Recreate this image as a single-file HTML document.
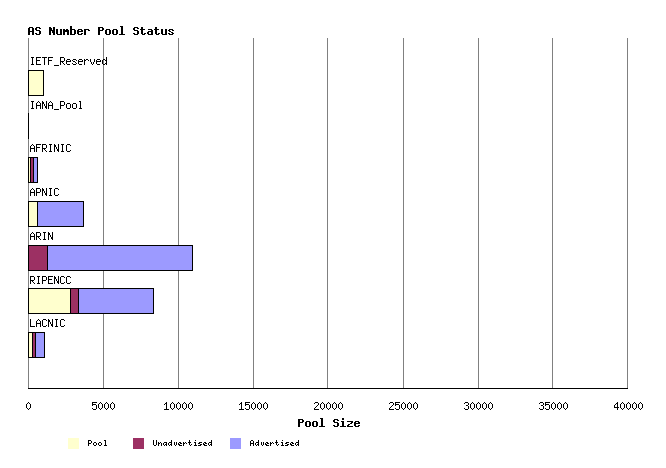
<!DOCTYPE html>
<html lang="en">
<head>
<meta charset="utf-8">
<title>AS Number Pool Status</title>
<style>
html,body{margin:0;padding:0;background:#fff;}
body{font-family:"Liberation Mono",monospace;font-size:11px;color:#000;}
#chart{position:relative;width:666px;height:468px;background:#fff;overflow:hidden;}
#chart div{position:absolute;}
.g{width:1px;top:38px;height:351px;background:#808080;}
.ax{left:28px;top:388px;width:600px;height:1px;background:#000;}
.bar{background:#000;height:26px;left:28px;}
.bar i{position:absolute;display:block;top:1px;height:24px;}
.sw{width:11px;height:11px;top:438px;}
.t svg{display:block;position:absolute;left:0;top:0;}
.t path{fill:#000;}
.sr{position:absolute;left:0;top:0;width:1px;height:1px;overflow:hidden;clip:rect(0 0 0 0);clip-path:inset(50%);white-space:nowrap;font-size:1px;color:transparent;}
</style>
</head>
<body>
<div id="chart">
<div class="t title" style="left:28px;top:24px;width:147px;height:13px"><span class="sr">AS Number Pool Status</span><svg width="147" height="13" viewBox="0 0 147 13" shape-rendering="crispEdges" role="img" aria-label="AS Number Pool Status"><title>AS Number Pool Status</title><path d="M1 3h4v1h-4zM0 4h2v1h-2zM4 4h2v1h-2zM0 5h2v1h-2zM4 5h2v1h-2zM0 6h2v1h-2zM4 6h2v1h-2zM0 7h6v1h-6zM0 8h2v1h-2zM4 8h2v1h-2zM0 9h2v1h-2zM4 9h2v1h-2zM0 10h2v1h-2zM4 10h2v1h-2zM8 3h4v1h-4zM7 4h2v1h-2zM11 4h2v1h-2zM7 5h2v1h-2zM8 6h4v1h-4zM11 7h2v1h-2zM11 8h2v1h-2zM7 9h2v1h-2zM11 9h2v1h-2zM8 10h4v1h-4zM21 3h2v1h-2zM25 3h2v1h-2zM21 4h3v1h-3zM25 4h2v1h-2zM21 5h3v1h-3zM25 5h2v1h-2zM21 6h6v1h-6zM21 7h2v1h-2zM24 7h3v1h-3zM21 8h2v1h-2zM24 8h3v1h-3zM21 9h2v1h-2zM25 9h2v1h-2zM21 10h2v1h-2zM25 10h2v1h-2zM28 5h2v1h-2zM32 5h2v1h-2zM28 6h2v1h-2zM32 6h2v1h-2zM28 7h2v1h-2zM32 7h2v1h-2zM28 8h2v1h-2zM32 8h2v1h-2zM28 9h2v1h-2zM32 9h2v1h-2zM29 10h5v1h-5zM35 5h2v1h-2zM38 5h2v1h-2zM35 6h6v1h-6zM35 7h6v1h-6zM35 8h2v1h-2zM39 8h2v1h-2zM35 9h2v1h-2zM39 9h2v1h-2zM35 10h2v1h-2zM39 10h2v1h-2zM42 2h2v1h-2zM42 3h2v1h-2zM42 4h2v1h-2zM42 5h5v1h-5zM42 6h2v1h-2zM46 6h2v1h-2zM42 7h2v1h-2zM46 7h2v1h-2zM42 8h2v1h-2zM46 8h2v1h-2zM42 9h2v1h-2zM46 9h2v1h-2zM42 10h5v1h-5zM50 5h4v1h-4zM49 6h2v1h-2zM53 6h2v1h-2zM49 7h6v1h-6zM49 8h2v1h-2zM49 9h2v1h-2zM53 9h2v1h-2zM50 10h4v1h-4zM56 5h5v1h-5zM56 6h2v1h-2zM60 6h2v1h-2zM56 7h2v1h-2zM56 8h2v1h-2zM56 9h2v1h-2zM56 10h2v1h-2zM70 3h5v1h-5zM70 4h2v1h-2zM74 4h2v1h-2zM70 5h2v1h-2zM74 5h2v1h-2zM70 6h5v1h-5zM70 7h2v1h-2zM70 8h2v1h-2zM70 9h2v1h-2zM70 10h2v1h-2zM78 5h4v1h-4zM77 6h2v1h-2zM81 6h2v1h-2zM77 7h2v1h-2zM81 7h2v1h-2zM77 8h2v1h-2zM81 8h2v1h-2zM77 9h2v1h-2zM81 9h2v1h-2zM78 10h4v1h-4zM85 5h4v1h-4zM84 6h2v1h-2zM88 6h2v1h-2zM84 7h2v1h-2zM88 7h2v1h-2zM84 8h2v1h-2zM88 8h2v1h-2zM84 9h2v1h-2zM88 9h2v1h-2zM85 10h4v1h-4zM92 2h3v1h-3zM93 3h2v1h-2zM93 4h2v1h-2zM93 5h2v1h-2zM93 6h2v1h-2zM93 7h2v1h-2zM93 8h2v1h-2zM93 9h2v1h-2zM91 10h6v1h-6zM106 3h4v1h-4zM105 4h2v1h-2zM109 4h2v1h-2zM105 5h2v1h-2zM106 6h4v1h-4zM109 7h2v1h-2zM109 8h2v1h-2zM105 9h2v1h-2zM109 9h2v1h-2zM106 10h4v1h-4zM113 3h2v1h-2zM113 4h2v1h-2zM112 5h5v1h-5zM113 6h2v1h-2zM113 7h2v1h-2zM113 8h2v1h-2zM113 9h2v1h-2zM116 9h2v1h-2zM114 10h3v1h-3zM120 5h4v1h-4zM123 6h2v1h-2zM120 7h5v1h-5zM119 8h2v1h-2zM123 8h2v1h-2zM119 9h2v1h-2zM123 9h2v1h-2zM120 10h5v1h-5zM127 3h2v1h-2zM127 4h2v1h-2zM126 5h5v1h-5zM127 6h2v1h-2zM127 7h2v1h-2zM127 8h2v1h-2zM127 9h2v1h-2zM130 9h2v1h-2zM128 10h3v1h-3zM133 5h2v1h-2zM137 5h2v1h-2zM133 6h2v1h-2zM137 6h2v1h-2zM133 7h2v1h-2zM137 7h2v1h-2zM133 8h2v1h-2zM137 8h2v1h-2zM133 9h2v1h-2zM137 9h2v1h-2zM134 10h5v1h-5zM141 5h4v1h-4zM140 6h2v1h-2zM144 6h2v1h-2zM141 7h2v1h-2zM143 8h2v1h-2zM140 9h2v1h-2zM144 9h2v1h-2zM141 10h4v1h-4z"/></svg></div>
<!-- grid lines -->
<div class="g" style="left:28px"></div><div class="g" style="left:103px"></div><div class="g" style="left:178px"></div><div class="g" style="left:253px"></div><div class="g" style="left:327px"></div><div class="g" style="left:403px"></div><div class="g" style="left:478px"></div><div class="g" style="left:552px"></div><div class="g" style="left:627px"></div>
<div class="ax"></div>
<!-- bars -->
<div class="t cat" style="left:30px;top:54px;width:78px;height:13px"><span class="sr">IETF_Reserved</span><svg width="78" height="13" viewBox="0 0 78 13" shape-rendering="crispEdges" role="img" aria-label="IETF_Reserved"><title>IETF_Reserved</title><path d="M1 3h3v1h-3zM2 4h1v1h-1zM2 5h1v1h-1zM2 6h1v1h-1zM2 7h1v1h-1zM2 8h1v1h-1zM2 9h1v1h-1zM1 10h3v1h-3zM6 3h5v1h-5zM6 4h1v1h-1zM6 5h1v1h-1zM6 6h4v1h-4zM6 7h1v1h-1zM6 8h1v1h-1zM6 9h1v1h-1zM6 10h5v1h-5zM12 3h5v1h-5zM14 4h1v1h-1zM14 5h1v1h-1zM14 6h1v1h-1zM14 7h1v1h-1zM14 8h1v1h-1zM14 9h1v1h-1zM14 10h1v1h-1zM18 3h5v1h-5zM18 4h1v1h-1zM18 5h1v1h-1zM18 6h4v1h-4zM18 7h1v1h-1zM18 8h1v1h-1zM18 9h1v1h-1zM18 10h1v1h-1zM24 11h5v1h-5zM30 3h4v1h-4zM30 4h1v1h-1zM34 4h1v1h-1zM30 5h1v1h-1zM34 5h1v1h-1zM30 6h1v1h-1zM34 6h1v1h-1zM30 7h4v1h-4zM30 8h1v1h-1zM32 8h1v1h-1zM30 9h1v1h-1zM33 9h1v1h-1zM30 10h1v1h-1zM34 10h1v1h-1zM37 5h3v1h-3zM36 6h1v1h-1zM40 6h1v1h-1zM36 7h5v1h-5zM36 8h1v1h-1zM36 9h1v1h-1zM37 10h3v1h-3zM43 5h3v1h-3zM42 6h1v1h-1zM46 6h1v1h-1zM43 7h2v1h-2zM45 8h1v1h-1zM42 9h1v1h-1zM46 9h1v1h-1zM43 10h3v1h-3zM49 5h3v1h-3zM48 6h1v1h-1zM52 6h1v1h-1zM48 7h5v1h-5zM48 8h1v1h-1zM48 9h1v1h-1zM49 10h3v1h-3zM54 5h1v1h-1zM56 5h2v1h-2zM54 6h2v1h-2zM58 6h1v1h-1zM54 7h1v1h-1zM54 8h1v1h-1zM54 9h1v1h-1zM54 10h1v1h-1zM60 5h1v1h-1zM64 5h1v1h-1zM60 6h1v1h-1zM64 6h1v1h-1zM60 7h1v1h-1zM64 7h1v1h-1zM61 8h1v1h-1zM63 8h1v1h-1zM61 9h1v1h-1zM63 9h1v1h-1zM62 10h1v1h-1zM67 5h3v1h-3zM66 6h1v1h-1zM70 6h1v1h-1zM66 7h5v1h-5zM66 8h1v1h-1zM66 9h1v1h-1zM67 10h3v1h-3zM76 3h1v1h-1zM76 4h1v1h-1zM73 5h2v1h-2zM76 5h1v1h-1zM72 6h1v1h-1zM75 6h2v1h-2zM72 7h1v1h-1zM76 7h1v1h-1zM72 8h1v1h-1zM76 8h1v1h-1zM72 9h1v1h-1zM75 9h2v1h-2zM73 10h2v1h-2zM76 10h1v1h-1z"/></svg></div>
<div class="bar" style="top:70px;width:16px"><i style="left:1px;width:14px;background:#ffffce"></i></div>
<div class="t cat" style="left:30px;top:98px;width:54px;height:13px"><span class="sr">IANA_Pool</span><svg width="54" height="13" viewBox="0 0 54 13" shape-rendering="crispEdges" role="img" aria-label="IANA_Pool"><title>IANA_Pool</title><path d="M1 3h3v1h-3zM2 4h1v1h-1zM2 5h1v1h-1zM2 6h1v1h-1zM2 7h1v1h-1zM2 8h1v1h-1zM2 9h1v1h-1zM1 10h3v1h-3zM8 3h1v1h-1zM7 4h1v1h-1zM9 4h1v1h-1zM6 5h1v1h-1zM10 5h1v1h-1zM6 6h1v1h-1zM10 6h1v1h-1zM6 7h5v1h-5zM6 8h1v1h-1zM10 8h1v1h-1zM6 9h1v1h-1zM10 9h1v1h-1zM6 10h1v1h-1zM10 10h1v1h-1zM12 3h1v1h-1zM16 3h1v1h-1zM12 4h2v1h-2zM16 4h1v1h-1zM12 5h2v1h-2zM16 5h1v1h-1zM12 6h1v1h-1zM14 6h1v1h-1zM16 6h1v1h-1zM12 7h1v1h-1zM14 7h1v1h-1zM16 7h1v1h-1zM12 8h1v1h-1zM15 8h2v1h-2zM12 9h1v1h-1zM15 9h2v1h-2zM12 10h1v1h-1zM16 10h1v1h-1zM20 3h1v1h-1zM19 4h1v1h-1zM21 4h1v1h-1zM18 5h1v1h-1zM22 5h1v1h-1zM18 6h1v1h-1zM22 6h1v1h-1zM18 7h5v1h-5zM18 8h1v1h-1zM22 8h1v1h-1zM18 9h1v1h-1zM22 9h1v1h-1zM18 10h1v1h-1zM22 10h1v1h-1zM24 11h5v1h-5zM30 3h4v1h-4zM30 4h1v1h-1zM34 4h1v1h-1zM30 5h1v1h-1zM34 5h1v1h-1zM30 6h1v1h-1zM34 6h1v1h-1zM30 7h4v1h-4zM30 8h1v1h-1zM30 9h1v1h-1zM30 10h1v1h-1zM37 5h3v1h-3zM36 6h1v1h-1zM40 6h1v1h-1zM36 7h1v1h-1zM40 7h1v1h-1zM36 8h1v1h-1zM40 8h1v1h-1zM36 9h1v1h-1zM40 9h1v1h-1zM37 10h3v1h-3zM43 5h3v1h-3zM42 6h1v1h-1zM46 6h1v1h-1zM42 7h1v1h-1zM46 7h1v1h-1zM42 8h1v1h-1zM46 8h1v1h-1zM42 9h1v1h-1zM46 9h1v1h-1zM43 10h3v1h-3zM49 3h2v1h-2zM50 4h1v1h-1zM50 5h1v1h-1zM50 6h1v1h-1zM50 7h1v1h-1zM50 8h1v1h-1zM50 9h1v1h-1zM49 10h3v1h-3z"/></svg></div>
<div class="bar" style="top:113px;width:1px"></div>
<div class="t cat" style="left:30px;top:141px;width:42px;height:13px"><span class="sr">AFRINIC</span><svg width="42" height="13" viewBox="0 0 42 13" shape-rendering="crispEdges" role="img" aria-label="AFRINIC"><title>AFRINIC</title><path d="M2 3h1v1h-1zM1 4h1v1h-1zM3 4h1v1h-1zM0 5h1v1h-1zM4 5h1v1h-1zM0 6h1v1h-1zM4 6h1v1h-1zM0 7h5v1h-5zM0 8h1v1h-1zM4 8h1v1h-1zM0 9h1v1h-1zM4 9h1v1h-1zM0 10h1v1h-1zM4 10h1v1h-1zM6 3h5v1h-5zM6 4h1v1h-1zM6 5h1v1h-1zM6 6h4v1h-4zM6 7h1v1h-1zM6 8h1v1h-1zM6 9h1v1h-1zM6 10h1v1h-1zM12 3h4v1h-4zM12 4h1v1h-1zM16 4h1v1h-1zM12 5h1v1h-1zM16 5h1v1h-1zM12 6h1v1h-1zM16 6h1v1h-1zM12 7h4v1h-4zM12 8h1v1h-1zM14 8h1v1h-1zM12 9h1v1h-1zM15 9h1v1h-1zM12 10h1v1h-1zM16 10h1v1h-1zM19 3h3v1h-3zM20 4h1v1h-1zM20 5h1v1h-1zM20 6h1v1h-1zM20 7h1v1h-1zM20 8h1v1h-1zM20 9h1v1h-1zM19 10h3v1h-3zM24 3h1v1h-1zM28 3h1v1h-1zM24 4h2v1h-2zM28 4h1v1h-1zM24 5h2v1h-2zM28 5h1v1h-1zM24 6h1v1h-1zM26 6h1v1h-1zM28 6h1v1h-1zM24 7h1v1h-1zM26 7h1v1h-1zM28 7h1v1h-1zM24 8h1v1h-1zM27 8h2v1h-2zM24 9h1v1h-1zM27 9h2v1h-2zM24 10h1v1h-1zM28 10h1v1h-1zM31 3h3v1h-3zM32 4h1v1h-1zM32 5h1v1h-1zM32 6h1v1h-1zM32 7h1v1h-1zM32 8h1v1h-1zM32 9h1v1h-1zM31 10h3v1h-3zM37 3h3v1h-3zM36 4h1v1h-1zM40 4h1v1h-1zM36 5h1v1h-1zM36 6h1v1h-1zM36 7h1v1h-1zM36 8h1v1h-1zM36 9h1v1h-1zM40 9h1v1h-1zM37 10h3v1h-3z"/></svg></div>
<div class="bar" style="top:157px;width:10px"><i style="left:1px;width:1px;background:#ffffce"></i><i style="left:3px;width:2px;background:#9c3063"></i><i style="left:6px;width:3px;background:#9c9aff"></i></div>
<div class="t cat" style="left:30px;top:185px;width:30px;height:13px"><span class="sr">APNIC</span><svg width="30" height="13" viewBox="0 0 30 13" shape-rendering="crispEdges" role="img" aria-label="APNIC"><title>APNIC</title><path d="M2 3h1v1h-1zM1 4h1v1h-1zM3 4h1v1h-1zM0 5h1v1h-1zM4 5h1v1h-1zM0 6h1v1h-1zM4 6h1v1h-1zM0 7h5v1h-5zM0 8h1v1h-1zM4 8h1v1h-1zM0 9h1v1h-1zM4 9h1v1h-1zM0 10h1v1h-1zM4 10h1v1h-1zM6 3h4v1h-4zM6 4h1v1h-1zM10 4h1v1h-1zM6 5h1v1h-1zM10 5h1v1h-1zM6 6h1v1h-1zM10 6h1v1h-1zM6 7h4v1h-4zM6 8h1v1h-1zM6 9h1v1h-1zM6 10h1v1h-1zM12 3h1v1h-1zM16 3h1v1h-1zM12 4h2v1h-2zM16 4h1v1h-1zM12 5h2v1h-2zM16 5h1v1h-1zM12 6h1v1h-1zM14 6h1v1h-1zM16 6h1v1h-1zM12 7h1v1h-1zM14 7h1v1h-1zM16 7h1v1h-1zM12 8h1v1h-1zM15 8h2v1h-2zM12 9h1v1h-1zM15 9h2v1h-2zM12 10h1v1h-1zM16 10h1v1h-1zM19 3h3v1h-3zM20 4h1v1h-1zM20 5h1v1h-1zM20 6h1v1h-1zM20 7h1v1h-1zM20 8h1v1h-1zM20 9h1v1h-1zM19 10h3v1h-3zM25 3h3v1h-3zM24 4h1v1h-1zM28 4h1v1h-1zM24 5h1v1h-1zM24 6h1v1h-1zM24 7h1v1h-1zM24 8h1v1h-1zM24 9h1v1h-1zM28 9h1v1h-1zM25 10h3v1h-3z"/></svg></div>
<div class="bar" style="top:201px;width:56px"><i style="left:1px;width:8px;background:#ffffce"></i><i style="left:10px;width:45px;background:#9c9aff"></i></div>
<div class="t cat" style="left:30px;top:229px;width:24px;height:13px"><span class="sr">ARIN</span><svg width="24" height="13" viewBox="0 0 24 13" shape-rendering="crispEdges" role="img" aria-label="ARIN"><title>ARIN</title><path d="M2 3h1v1h-1zM1 4h1v1h-1zM3 4h1v1h-1zM0 5h1v1h-1zM4 5h1v1h-1zM0 6h1v1h-1zM4 6h1v1h-1zM0 7h5v1h-5zM0 8h1v1h-1zM4 8h1v1h-1zM0 9h1v1h-1zM4 9h1v1h-1zM0 10h1v1h-1zM4 10h1v1h-1zM6 3h4v1h-4zM6 4h1v1h-1zM10 4h1v1h-1zM6 5h1v1h-1zM10 5h1v1h-1zM6 6h1v1h-1zM10 6h1v1h-1zM6 7h4v1h-4zM6 8h1v1h-1zM8 8h1v1h-1zM6 9h1v1h-1zM9 9h1v1h-1zM6 10h1v1h-1zM10 10h1v1h-1zM13 3h3v1h-3zM14 4h1v1h-1zM14 5h1v1h-1zM14 6h1v1h-1zM14 7h1v1h-1zM14 8h1v1h-1zM14 9h1v1h-1zM13 10h3v1h-3zM18 3h1v1h-1zM22 3h1v1h-1zM18 4h2v1h-2zM22 4h1v1h-1zM18 5h2v1h-2zM22 5h1v1h-1zM18 6h1v1h-1zM20 6h1v1h-1zM22 6h1v1h-1zM18 7h1v1h-1zM20 7h1v1h-1zM22 7h1v1h-1zM18 8h1v1h-1zM21 8h2v1h-2zM18 9h1v1h-1zM21 9h2v1h-2zM18 10h1v1h-1zM22 10h1v1h-1z"/></svg></div>
<div class="bar" style="top:245px;width:165px"><i style="left:1px;width:18px;background:#9c3063"></i><i style="left:20px;width:144px;background:#9c9aff"></i></div>
<div class="t cat" style="left:30px;top:273px;width:42px;height:13px"><span class="sr">RIPENCC</span><svg width="42" height="13" viewBox="0 0 42 13" shape-rendering="crispEdges" role="img" aria-label="RIPENCC"><title>RIPENCC</title><path d="M0 3h4v1h-4zM0 4h1v1h-1zM4 4h1v1h-1zM0 5h1v1h-1zM4 5h1v1h-1zM0 6h1v1h-1zM4 6h1v1h-1zM0 7h4v1h-4zM0 8h1v1h-1zM2 8h1v1h-1zM0 9h1v1h-1zM3 9h1v1h-1zM0 10h1v1h-1zM4 10h1v1h-1zM7 3h3v1h-3zM8 4h1v1h-1zM8 5h1v1h-1zM8 6h1v1h-1zM8 7h1v1h-1zM8 8h1v1h-1zM8 9h1v1h-1zM7 10h3v1h-3zM12 3h4v1h-4zM12 4h1v1h-1zM16 4h1v1h-1zM12 5h1v1h-1zM16 5h1v1h-1zM12 6h1v1h-1zM16 6h1v1h-1zM12 7h4v1h-4zM12 8h1v1h-1zM12 9h1v1h-1zM12 10h1v1h-1zM18 3h5v1h-5zM18 4h1v1h-1zM18 5h1v1h-1zM18 6h4v1h-4zM18 7h1v1h-1zM18 8h1v1h-1zM18 9h1v1h-1zM18 10h5v1h-5zM24 3h1v1h-1zM28 3h1v1h-1zM24 4h2v1h-2zM28 4h1v1h-1zM24 5h2v1h-2zM28 5h1v1h-1zM24 6h1v1h-1zM26 6h1v1h-1zM28 6h1v1h-1zM24 7h1v1h-1zM26 7h1v1h-1zM28 7h1v1h-1zM24 8h1v1h-1zM27 8h2v1h-2zM24 9h1v1h-1zM27 9h2v1h-2zM24 10h1v1h-1zM28 10h1v1h-1zM31 3h3v1h-3zM30 4h1v1h-1zM34 4h1v1h-1zM30 5h1v1h-1zM30 6h1v1h-1zM30 7h1v1h-1zM30 8h1v1h-1zM30 9h1v1h-1zM34 9h1v1h-1zM31 10h3v1h-3zM37 3h3v1h-3zM36 4h1v1h-1zM40 4h1v1h-1zM36 5h1v1h-1zM36 6h1v1h-1zM36 7h1v1h-1zM36 8h1v1h-1zM36 9h1v1h-1zM40 9h1v1h-1zM37 10h3v1h-3z"/></svg></div>
<div class="bar" style="top:288px;width:126px"><i style="left:1px;width:41px;background:#ffffce"></i><i style="left:43px;width:7px;background:#9c3063"></i><i style="left:51px;width:74px;background:#9c9aff"></i></div>
<div class="t cat" style="left:30px;top:316px;width:36px;height:13px"><span class="sr">LACNIC</span><svg width="36" height="13" viewBox="0 0 36 13" shape-rendering="crispEdges" role="img" aria-label="LACNIC"><title>LACNIC</title><path d="M0 3h1v1h-1zM0 4h1v1h-1zM0 5h1v1h-1zM0 6h1v1h-1zM0 7h1v1h-1zM0 8h1v1h-1zM0 9h1v1h-1zM0 10h5v1h-5zM8 3h1v1h-1zM7 4h1v1h-1zM9 4h1v1h-1zM6 5h1v1h-1zM10 5h1v1h-1zM6 6h1v1h-1zM10 6h1v1h-1zM6 7h5v1h-5zM6 8h1v1h-1zM10 8h1v1h-1zM6 9h1v1h-1zM10 9h1v1h-1zM6 10h1v1h-1zM10 10h1v1h-1zM13 3h3v1h-3zM12 4h1v1h-1zM16 4h1v1h-1zM12 5h1v1h-1zM12 6h1v1h-1zM12 7h1v1h-1zM12 8h1v1h-1zM12 9h1v1h-1zM16 9h1v1h-1zM13 10h3v1h-3zM18 3h1v1h-1zM22 3h1v1h-1zM18 4h2v1h-2zM22 4h1v1h-1zM18 5h2v1h-2zM22 5h1v1h-1zM18 6h1v1h-1zM20 6h1v1h-1zM22 6h1v1h-1zM18 7h1v1h-1zM20 7h1v1h-1zM22 7h1v1h-1zM18 8h1v1h-1zM21 8h2v1h-2zM18 9h1v1h-1zM21 9h2v1h-2zM18 10h1v1h-1zM22 10h1v1h-1zM25 3h3v1h-3zM26 4h1v1h-1zM26 5h1v1h-1zM26 6h1v1h-1zM26 7h1v1h-1zM26 8h1v1h-1zM26 9h1v1h-1zM25 10h3v1h-3zM31 3h3v1h-3zM30 4h1v1h-1zM34 4h1v1h-1zM30 5h1v1h-1zM30 6h1v1h-1zM30 7h1v1h-1zM30 8h1v1h-1zM30 9h1v1h-1zM34 9h1v1h-1zM31 10h3v1h-3z"/></svg></div>
<div class="bar" style="top:332px;width:17px"><i style="left:1px;width:3px;background:#ffffce"></i><i style="left:5px;width:2px;background:#9c3063"></i><i style="left:8px;width:8px;background:#9c9aff"></i></div>
<!-- x axis tick labels -->
<div class="t tick" style="left:26px;top:399px;width:6px;height:13px"><span class="sr">0</span><svg width="6" height="13" viewBox="0 0 6 13" shape-rendering="crispEdges" role="img" aria-label="0"><title>0</title><path d="M2 3h1v1h-1zM1 4h1v1h-1zM3 4h1v1h-1zM0 5h1v1h-1zM4 5h1v1h-1zM0 6h1v1h-1zM4 6h1v1h-1zM0 7h1v1h-1zM4 7h1v1h-1zM0 8h1v1h-1zM4 8h1v1h-1zM1 9h1v1h-1zM3 9h1v1h-1zM2 10h1v1h-1z"/></svg></div><div class="t tick" style="left:92px;top:399px;width:24px;height:13px"><span class="sr">5000</span><svg width="24" height="13" viewBox="0 0 24 13" shape-rendering="crispEdges" role="img" aria-label="5000"><title>5000</title><path d="M0 3h5v1h-5zM0 4h1v1h-1zM0 5h4v1h-4zM0 6h1v1h-1zM4 6h1v1h-1zM4 7h1v1h-1zM4 8h1v1h-1zM0 9h1v1h-1zM4 9h1v1h-1zM1 10h3v1h-3zM8 3h1v1h-1zM7 4h1v1h-1zM9 4h1v1h-1zM6 5h1v1h-1zM10 5h1v1h-1zM6 6h1v1h-1zM10 6h1v1h-1zM6 7h1v1h-1zM10 7h1v1h-1zM6 8h1v1h-1zM10 8h1v1h-1zM7 9h1v1h-1zM9 9h1v1h-1zM8 10h1v1h-1zM14 3h1v1h-1zM13 4h1v1h-1zM15 4h1v1h-1zM12 5h1v1h-1zM16 5h1v1h-1zM12 6h1v1h-1zM16 6h1v1h-1zM12 7h1v1h-1zM16 7h1v1h-1zM12 8h1v1h-1zM16 8h1v1h-1zM13 9h1v1h-1zM15 9h1v1h-1zM14 10h1v1h-1zM20 3h1v1h-1zM19 4h1v1h-1zM21 4h1v1h-1zM18 5h1v1h-1zM22 5h1v1h-1zM18 6h1v1h-1zM22 6h1v1h-1zM18 7h1v1h-1zM22 7h1v1h-1zM18 8h1v1h-1zM22 8h1v1h-1zM19 9h1v1h-1zM21 9h1v1h-1zM20 10h1v1h-1z"/></svg></div><div class="t tick" style="left:164px;top:399px;width:30px;height:13px"><span class="sr">10000</span><svg width="30" height="13" viewBox="0 0 30 13" shape-rendering="crispEdges" role="img" aria-label="10000"><title>10000</title><path d="M2 3h1v1h-1zM1 4h2v1h-2zM0 5h1v1h-1zM2 5h1v1h-1zM2 6h1v1h-1zM2 7h1v1h-1zM2 8h1v1h-1zM2 9h1v1h-1zM0 10h5v1h-5zM8 3h1v1h-1zM7 4h1v1h-1zM9 4h1v1h-1zM6 5h1v1h-1zM10 5h1v1h-1zM6 6h1v1h-1zM10 6h1v1h-1zM6 7h1v1h-1zM10 7h1v1h-1zM6 8h1v1h-1zM10 8h1v1h-1zM7 9h1v1h-1zM9 9h1v1h-1zM8 10h1v1h-1zM14 3h1v1h-1zM13 4h1v1h-1zM15 4h1v1h-1zM12 5h1v1h-1zM16 5h1v1h-1zM12 6h1v1h-1zM16 6h1v1h-1zM12 7h1v1h-1zM16 7h1v1h-1zM12 8h1v1h-1zM16 8h1v1h-1zM13 9h1v1h-1zM15 9h1v1h-1zM14 10h1v1h-1zM20 3h1v1h-1zM19 4h1v1h-1zM21 4h1v1h-1zM18 5h1v1h-1zM22 5h1v1h-1zM18 6h1v1h-1zM22 6h1v1h-1zM18 7h1v1h-1zM22 7h1v1h-1zM18 8h1v1h-1zM22 8h1v1h-1zM19 9h1v1h-1zM21 9h1v1h-1zM20 10h1v1h-1zM26 3h1v1h-1zM25 4h1v1h-1zM27 4h1v1h-1zM24 5h1v1h-1zM28 5h1v1h-1zM24 6h1v1h-1zM28 6h1v1h-1zM24 7h1v1h-1zM28 7h1v1h-1zM24 8h1v1h-1zM28 8h1v1h-1zM25 9h1v1h-1zM27 9h1v1h-1zM26 10h1v1h-1z"/></svg></div><div class="t tick" style="left:239px;top:399px;width:30px;height:13px"><span class="sr">15000</span><svg width="30" height="13" viewBox="0 0 30 13" shape-rendering="crispEdges" role="img" aria-label="15000"><title>15000</title><path d="M2 3h1v1h-1zM1 4h2v1h-2zM0 5h1v1h-1zM2 5h1v1h-1zM2 6h1v1h-1zM2 7h1v1h-1zM2 8h1v1h-1zM2 9h1v1h-1zM0 10h5v1h-5zM6 3h5v1h-5zM6 4h1v1h-1zM6 5h4v1h-4zM6 6h1v1h-1zM10 6h1v1h-1zM10 7h1v1h-1zM10 8h1v1h-1zM6 9h1v1h-1zM10 9h1v1h-1zM7 10h3v1h-3zM14 3h1v1h-1zM13 4h1v1h-1zM15 4h1v1h-1zM12 5h1v1h-1zM16 5h1v1h-1zM12 6h1v1h-1zM16 6h1v1h-1zM12 7h1v1h-1zM16 7h1v1h-1zM12 8h1v1h-1zM16 8h1v1h-1zM13 9h1v1h-1zM15 9h1v1h-1zM14 10h1v1h-1zM20 3h1v1h-1zM19 4h1v1h-1zM21 4h1v1h-1zM18 5h1v1h-1zM22 5h1v1h-1zM18 6h1v1h-1zM22 6h1v1h-1zM18 7h1v1h-1zM22 7h1v1h-1zM18 8h1v1h-1zM22 8h1v1h-1zM19 9h1v1h-1zM21 9h1v1h-1zM20 10h1v1h-1zM26 3h1v1h-1zM25 4h1v1h-1zM27 4h1v1h-1zM24 5h1v1h-1zM28 5h1v1h-1zM24 6h1v1h-1zM28 6h1v1h-1zM24 7h1v1h-1zM28 7h1v1h-1zM24 8h1v1h-1zM28 8h1v1h-1zM25 9h1v1h-1zM27 9h1v1h-1zM26 10h1v1h-1z"/></svg></div><div class="t tick" style="left:314px;top:399px;width:30px;height:13px"><span class="sr">20000</span><svg width="30" height="13" viewBox="0 0 30 13" shape-rendering="crispEdges" role="img" aria-label="20000"><title>20000</title><path d="M1 3h3v1h-3zM0 4h1v1h-1zM4 4h1v1h-1zM4 5h1v1h-1zM3 6h1v1h-1zM2 7h1v1h-1zM1 8h1v1h-1zM0 9h1v1h-1zM0 10h5v1h-5zM8 3h1v1h-1zM7 4h1v1h-1zM9 4h1v1h-1zM6 5h1v1h-1zM10 5h1v1h-1zM6 6h1v1h-1zM10 6h1v1h-1zM6 7h1v1h-1zM10 7h1v1h-1zM6 8h1v1h-1zM10 8h1v1h-1zM7 9h1v1h-1zM9 9h1v1h-1zM8 10h1v1h-1zM14 3h1v1h-1zM13 4h1v1h-1zM15 4h1v1h-1zM12 5h1v1h-1zM16 5h1v1h-1zM12 6h1v1h-1zM16 6h1v1h-1zM12 7h1v1h-1zM16 7h1v1h-1zM12 8h1v1h-1zM16 8h1v1h-1zM13 9h1v1h-1zM15 9h1v1h-1zM14 10h1v1h-1zM20 3h1v1h-1zM19 4h1v1h-1zM21 4h1v1h-1zM18 5h1v1h-1zM22 5h1v1h-1zM18 6h1v1h-1zM22 6h1v1h-1zM18 7h1v1h-1zM22 7h1v1h-1zM18 8h1v1h-1zM22 8h1v1h-1zM19 9h1v1h-1zM21 9h1v1h-1zM20 10h1v1h-1zM26 3h1v1h-1zM25 4h1v1h-1zM27 4h1v1h-1zM24 5h1v1h-1zM28 5h1v1h-1zM24 6h1v1h-1zM28 6h1v1h-1zM24 7h1v1h-1zM28 7h1v1h-1zM24 8h1v1h-1zM28 8h1v1h-1zM25 9h1v1h-1zM27 9h1v1h-1zM26 10h1v1h-1z"/></svg></div><div class="t tick" style="left:389px;top:399px;width:30px;height:13px"><span class="sr">25000</span><svg width="30" height="13" viewBox="0 0 30 13" shape-rendering="crispEdges" role="img" aria-label="25000"><title>25000</title><path d="M1 3h3v1h-3zM0 4h1v1h-1zM4 4h1v1h-1zM4 5h1v1h-1zM3 6h1v1h-1zM2 7h1v1h-1zM1 8h1v1h-1zM0 9h1v1h-1zM0 10h5v1h-5zM6 3h5v1h-5zM6 4h1v1h-1zM6 5h4v1h-4zM6 6h1v1h-1zM10 6h1v1h-1zM10 7h1v1h-1zM10 8h1v1h-1zM6 9h1v1h-1zM10 9h1v1h-1zM7 10h3v1h-3zM14 3h1v1h-1zM13 4h1v1h-1zM15 4h1v1h-1zM12 5h1v1h-1zM16 5h1v1h-1zM12 6h1v1h-1zM16 6h1v1h-1zM12 7h1v1h-1zM16 7h1v1h-1zM12 8h1v1h-1zM16 8h1v1h-1zM13 9h1v1h-1zM15 9h1v1h-1zM14 10h1v1h-1zM20 3h1v1h-1zM19 4h1v1h-1zM21 4h1v1h-1zM18 5h1v1h-1zM22 5h1v1h-1zM18 6h1v1h-1zM22 6h1v1h-1zM18 7h1v1h-1zM22 7h1v1h-1zM18 8h1v1h-1zM22 8h1v1h-1zM19 9h1v1h-1zM21 9h1v1h-1zM20 10h1v1h-1zM26 3h1v1h-1zM25 4h1v1h-1zM27 4h1v1h-1zM24 5h1v1h-1zM28 5h1v1h-1zM24 6h1v1h-1zM28 6h1v1h-1zM24 7h1v1h-1zM28 7h1v1h-1zM24 8h1v1h-1zM28 8h1v1h-1zM25 9h1v1h-1zM27 9h1v1h-1zM26 10h1v1h-1z"/></svg></div><div class="t tick" style="left:464px;top:399px;width:30px;height:13px"><span class="sr">30000</span><svg width="30" height="13" viewBox="0 0 30 13" shape-rendering="crispEdges" role="img" aria-label="30000"><title>30000</title><path d="M1 3h3v1h-3zM0 4h1v1h-1zM4 4h1v1h-1zM4 5h1v1h-1zM2 6h2v1h-2zM4 7h1v1h-1zM4 8h1v1h-1zM0 9h1v1h-1zM4 9h1v1h-1zM1 10h3v1h-3zM8 3h1v1h-1zM7 4h1v1h-1zM9 4h1v1h-1zM6 5h1v1h-1zM10 5h1v1h-1zM6 6h1v1h-1zM10 6h1v1h-1zM6 7h1v1h-1zM10 7h1v1h-1zM6 8h1v1h-1zM10 8h1v1h-1zM7 9h1v1h-1zM9 9h1v1h-1zM8 10h1v1h-1zM14 3h1v1h-1zM13 4h1v1h-1zM15 4h1v1h-1zM12 5h1v1h-1zM16 5h1v1h-1zM12 6h1v1h-1zM16 6h1v1h-1zM12 7h1v1h-1zM16 7h1v1h-1zM12 8h1v1h-1zM16 8h1v1h-1zM13 9h1v1h-1zM15 9h1v1h-1zM14 10h1v1h-1zM20 3h1v1h-1zM19 4h1v1h-1zM21 4h1v1h-1zM18 5h1v1h-1zM22 5h1v1h-1zM18 6h1v1h-1zM22 6h1v1h-1zM18 7h1v1h-1zM22 7h1v1h-1zM18 8h1v1h-1zM22 8h1v1h-1zM19 9h1v1h-1zM21 9h1v1h-1zM20 10h1v1h-1zM26 3h1v1h-1zM25 4h1v1h-1zM27 4h1v1h-1zM24 5h1v1h-1zM28 5h1v1h-1zM24 6h1v1h-1zM28 6h1v1h-1zM24 7h1v1h-1zM28 7h1v1h-1zM24 8h1v1h-1zM28 8h1v1h-1zM25 9h1v1h-1zM27 9h1v1h-1zM26 10h1v1h-1z"/></svg></div><div class="t tick" style="left:539px;top:399px;width:30px;height:13px"><span class="sr">35000</span><svg width="30" height="13" viewBox="0 0 30 13" shape-rendering="crispEdges" role="img" aria-label="35000"><title>35000</title><path d="M1 3h3v1h-3zM0 4h1v1h-1zM4 4h1v1h-1zM4 5h1v1h-1zM2 6h2v1h-2zM4 7h1v1h-1zM4 8h1v1h-1zM0 9h1v1h-1zM4 9h1v1h-1zM1 10h3v1h-3zM6 3h5v1h-5zM6 4h1v1h-1zM6 5h4v1h-4zM6 6h1v1h-1zM10 6h1v1h-1zM10 7h1v1h-1zM10 8h1v1h-1zM6 9h1v1h-1zM10 9h1v1h-1zM7 10h3v1h-3zM14 3h1v1h-1zM13 4h1v1h-1zM15 4h1v1h-1zM12 5h1v1h-1zM16 5h1v1h-1zM12 6h1v1h-1zM16 6h1v1h-1zM12 7h1v1h-1zM16 7h1v1h-1zM12 8h1v1h-1zM16 8h1v1h-1zM13 9h1v1h-1zM15 9h1v1h-1zM14 10h1v1h-1zM20 3h1v1h-1zM19 4h1v1h-1zM21 4h1v1h-1zM18 5h1v1h-1zM22 5h1v1h-1zM18 6h1v1h-1zM22 6h1v1h-1zM18 7h1v1h-1zM22 7h1v1h-1zM18 8h1v1h-1zM22 8h1v1h-1zM19 9h1v1h-1zM21 9h1v1h-1zM20 10h1v1h-1zM26 3h1v1h-1zM25 4h1v1h-1zM27 4h1v1h-1zM24 5h1v1h-1zM28 5h1v1h-1zM24 6h1v1h-1zM28 6h1v1h-1zM24 7h1v1h-1zM28 7h1v1h-1zM24 8h1v1h-1zM28 8h1v1h-1zM25 9h1v1h-1zM27 9h1v1h-1zM26 10h1v1h-1z"/></svg></div><div class="t tick" style="left:614px;top:399px;width:30px;height:13px"><span class="sr">40000</span><svg width="30" height="13" viewBox="0 0 30 13" shape-rendering="crispEdges" role="img" aria-label="40000"><title>40000</title><path d="M3 3h1v1h-1zM2 4h2v1h-2zM1 5h1v1h-1zM3 5h1v1h-1zM0 6h1v1h-1zM3 6h1v1h-1zM0 7h1v1h-1zM3 7h1v1h-1zM0 8h5v1h-5zM3 9h1v1h-1zM3 10h1v1h-1zM8 3h1v1h-1zM7 4h1v1h-1zM9 4h1v1h-1zM6 5h1v1h-1zM10 5h1v1h-1zM6 6h1v1h-1zM10 6h1v1h-1zM6 7h1v1h-1zM10 7h1v1h-1zM6 8h1v1h-1zM10 8h1v1h-1zM7 9h1v1h-1zM9 9h1v1h-1zM8 10h1v1h-1zM14 3h1v1h-1zM13 4h1v1h-1zM15 4h1v1h-1zM12 5h1v1h-1zM16 5h1v1h-1zM12 6h1v1h-1zM16 6h1v1h-1zM12 7h1v1h-1zM16 7h1v1h-1zM12 8h1v1h-1zM16 8h1v1h-1zM13 9h1v1h-1zM15 9h1v1h-1zM14 10h1v1h-1zM20 3h1v1h-1zM19 4h1v1h-1zM21 4h1v1h-1zM18 5h1v1h-1zM22 5h1v1h-1zM18 6h1v1h-1zM22 6h1v1h-1zM18 7h1v1h-1zM22 7h1v1h-1zM18 8h1v1h-1zM22 8h1v1h-1zM19 9h1v1h-1zM21 9h1v1h-1zM20 10h1v1h-1zM26 3h1v1h-1zM25 4h1v1h-1zM27 4h1v1h-1zM24 5h1v1h-1zM28 5h1v1h-1zM24 6h1v1h-1zM28 6h1v1h-1zM24 7h1v1h-1zM28 7h1v1h-1zM24 8h1v1h-1zM28 8h1v1h-1zM25 9h1v1h-1zM27 9h1v1h-1zM26 10h1v1h-1z"/></svg></div>
<div class="t xtitle" style="left:298px;top:416px;width:63px;height:13px"><span class="sr">Pool Size</span><svg width="63" height="13" viewBox="0 0 63 13" shape-rendering="crispEdges" role="img" aria-label="Pool Size"><title>Pool Size</title><path d="M0 3h5v1h-5zM0 4h2v1h-2zM4 4h2v1h-2zM0 5h2v1h-2zM4 5h2v1h-2zM0 6h5v1h-5zM0 7h2v1h-2zM0 8h2v1h-2zM0 9h2v1h-2zM0 10h2v1h-2zM8 5h4v1h-4zM7 6h2v1h-2zM11 6h2v1h-2zM7 7h2v1h-2zM11 7h2v1h-2zM7 8h2v1h-2zM11 8h2v1h-2zM7 9h2v1h-2zM11 9h2v1h-2zM8 10h4v1h-4zM15 5h4v1h-4zM14 6h2v1h-2zM18 6h2v1h-2zM14 7h2v1h-2zM18 7h2v1h-2zM14 8h2v1h-2zM18 8h2v1h-2zM14 9h2v1h-2zM18 9h2v1h-2zM15 10h4v1h-4zM22 2h3v1h-3zM23 3h2v1h-2zM23 4h2v1h-2zM23 5h2v1h-2zM23 6h2v1h-2zM23 7h2v1h-2zM23 8h2v1h-2zM23 9h2v1h-2zM21 10h6v1h-6zM36 3h4v1h-4zM35 4h2v1h-2zM39 4h2v1h-2zM35 5h2v1h-2zM36 6h4v1h-4zM39 7h2v1h-2zM39 8h2v1h-2zM35 9h2v1h-2zM39 9h2v1h-2zM36 10h4v1h-4zM44 2h2v1h-2zM44 3h2v1h-2zM43 5h3v1h-3zM44 6h2v1h-2zM44 7h2v1h-2zM44 8h2v1h-2zM44 9h2v1h-2zM42 10h6v1h-6zM49 5h6v1h-6zM53 6h2v1h-2zM52 7h2v1h-2zM50 8h2v1h-2zM49 9h2v1h-2zM49 10h6v1h-6zM57 5h4v1h-4zM56 6h2v1h-2zM60 6h2v1h-2zM56 7h6v1h-6zM56 8h2v1h-2zM56 9h2v1h-2zM60 9h2v1h-2zM57 10h4v1h-4z"/></svg></div>
<!-- legend -->
<div class="sw" style="left:68px;background:#ffffce"></div><div class="t leg" style="left:88px;top:439px;width:20px;height:8px"><span class="sr">Pool</span><svg width="20" height="8" viewBox="0 0 20 8" shape-rendering="crispEdges" role="img" aria-label="Pool"><title>Pool</title><path d="M0 1h3v1h-3zM0 2h1v1h-1zM3 2h1v1h-1zM0 3h1v1h-1zM3 3h1v1h-1zM0 4h3v1h-3zM0 5h1v1h-1zM0 6h1v1h-1zM6 3h2v1h-2zM5 4h1v1h-1zM8 4h1v1h-1zM5 5h1v1h-1zM8 5h1v1h-1zM6 6h2v1h-2zM11 3h2v1h-2zM10 4h1v1h-1zM13 4h1v1h-1zM10 5h1v1h-1zM13 5h1v1h-1zM11 6h2v1h-2zM16 1h2v1h-2zM17 2h1v1h-1zM17 3h1v1h-1zM17 4h1v1h-1zM17 5h1v1h-1zM16 6h3v1h-3z"/></svg></div>
<div class="sw" style="left:133px;background:#9c3063"></div><div class="t leg" style="left:153px;top:439px;width:60px;height:8px"><span class="sr">Unadvertised</span><svg width="60" height="8" viewBox="0 0 60 8" shape-rendering="crispEdges" role="img" aria-label="Unadvertised"><title>Unadvertised</title><path d="M0 1h1v1h-1zM3 1h1v1h-1zM0 2h1v1h-1zM3 2h1v1h-1zM0 3h1v1h-1zM3 3h1v1h-1zM0 4h1v1h-1zM3 4h1v1h-1zM0 5h1v1h-1zM3 5h1v1h-1zM1 6h2v1h-2zM5 3h1v1h-1zM7 3h1v1h-1zM5 4h2v1h-2zM8 4h1v1h-1zM5 5h1v1h-1zM8 5h1v1h-1zM5 6h1v1h-1zM8 6h1v1h-1zM11 3h3v1h-3zM10 4h1v1h-1zM13 4h1v1h-1zM10 5h1v1h-1zM12 5h2v1h-2zM11 6h1v1h-1zM13 6h1v1h-1zM18 1h1v1h-1zM18 2h1v1h-1zM16 3h3v1h-3zM15 4h1v1h-1zM18 4h1v1h-1zM15 5h1v1h-1zM17 5h2v1h-2zM16 6h1v1h-1zM18 6h1v1h-1zM21 3h1v1h-1zM23 3h1v1h-1zM21 4h1v1h-1zM23 4h1v1h-1zM21 5h1v1h-1zM23 5h1v1h-1zM22 6h1v1h-1zM26 3h2v1h-2zM25 4h1v1h-1zM27 4h2v1h-2zM25 5h2v1h-2zM26 6h3v1h-3zM30 3h1v1h-1zM32 3h1v1h-1zM30 4h2v1h-2zM33 4h1v1h-1zM30 5h1v1h-1zM30 6h1v1h-1zM36 1h1v1h-1zM36 2h1v1h-1zM35 3h3v1h-3zM36 4h1v1h-1zM36 5h1v1h-1zM38 5h1v1h-1zM37 6h1v1h-1zM42 1h1v1h-1zM41 3h2v1h-2zM42 4h1v1h-1zM42 5h1v1h-1zM41 6h3v1h-3zM46 3h3v1h-3zM45 4h2v1h-2zM47 5h2v1h-2zM45 6h3v1h-3zM51 3h2v1h-2zM50 4h1v1h-1zM52 4h2v1h-2zM50 5h2v1h-2zM51 6h3v1h-3zM58 1h1v1h-1zM58 2h1v1h-1zM56 3h3v1h-3zM55 4h1v1h-1zM58 4h1v1h-1zM55 5h1v1h-1zM57 5h2v1h-2zM56 6h1v1h-1zM58 6h1v1h-1z"/></svg></div>
<div class="sw" style="left:230px;background:#9c9aff"></div><div class="t leg" style="left:250px;top:439px;width:50px;height:8px"><span class="sr">Advertised</span><svg width="50" height="8" viewBox="0 0 50 8" shape-rendering="crispEdges" role="img" aria-label="Advertised"><title>Advertised</title><path d="M1 1h2v1h-2zM0 2h1v1h-1zM3 2h1v1h-1zM0 3h1v1h-1zM3 3h1v1h-1zM0 4h4v1h-4zM0 5h1v1h-1zM3 5h1v1h-1zM0 6h1v1h-1zM3 6h1v1h-1zM8 1h1v1h-1zM8 2h1v1h-1zM6 3h3v1h-3zM5 4h1v1h-1zM8 4h1v1h-1zM5 5h1v1h-1zM7 5h2v1h-2zM6 6h1v1h-1zM8 6h1v1h-1zM11 3h1v1h-1zM13 3h1v1h-1zM11 4h1v1h-1zM13 4h1v1h-1zM11 5h1v1h-1zM13 5h1v1h-1zM12 6h1v1h-1zM16 3h2v1h-2zM15 4h1v1h-1zM17 4h2v1h-2zM15 5h2v1h-2zM16 6h3v1h-3zM20 3h1v1h-1zM22 3h1v1h-1zM20 4h2v1h-2zM23 4h1v1h-1zM20 5h1v1h-1zM20 6h1v1h-1zM26 1h1v1h-1zM26 2h1v1h-1zM25 3h3v1h-3zM26 4h1v1h-1zM26 5h1v1h-1zM28 5h1v1h-1zM27 6h1v1h-1zM32 1h1v1h-1zM31 3h2v1h-2zM32 4h1v1h-1zM32 5h1v1h-1zM31 6h3v1h-3zM36 3h3v1h-3zM35 4h2v1h-2zM37 5h2v1h-2zM35 6h3v1h-3zM41 3h2v1h-2zM40 4h1v1h-1zM42 4h2v1h-2zM40 5h2v1h-2zM41 6h3v1h-3zM48 1h1v1h-1zM48 2h1v1h-1zM46 3h3v1h-3zM45 4h1v1h-1zM48 4h1v1h-1zM45 5h1v1h-1zM47 5h2v1h-2zM46 6h1v1h-1zM48 6h1v1h-1z"/></svg></div>
</div>
</body>
</html>
